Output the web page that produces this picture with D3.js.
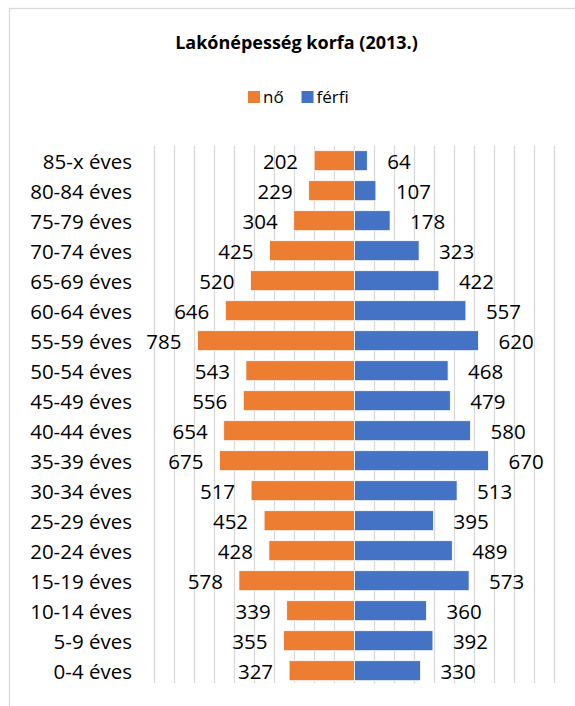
<!DOCTYPE html>
<html>
<head>
<meta charset="utf-8">
<script src="https://cdn.jsdelivr.net/npm/d3@7/dist/d3.min.js"></script>
<style>
  html, body { margin: 0; padding: 0; background: #fff; }
  svg { display: block; }
  text { font-family: "Open Sans", "Noto Sans", sans-serif; fill: #000; }
</style>
</head>
<body>
<svg id="chart" width="575" height="706"></svg>
<script>
// Age groups, top to bottom
const categories = ["85-x éves", "80-84 éves", "75-79 éves", "70-74 éves", "65-69 éves",
  "60-64 éves", "55-59 éves", "50-54 éves", "45-49 éves", "40-44 éves", "35-39 éves",
  "30-34 éves", "25-29 éves", "20-24 éves", "15-19 éves", "10-14 éves", "5-9 éves", "0-4 éves"];
// Women (drawn to the left)
const no = [202, 229, 304, 425, 520, 646, 785, 543, 556, 654, 675, 517, 452, 428, 578, 339, 355, 327];
// Men (drawn to the right)
const ferfi = [64, 107, 178, 323, 422, 557, 620, 468, 479, 580, 670, 513, 395, 489, 573, 360, 392, 330];
const gridTicks = d3.range(-1000, 1001, 100);
const seriesNames = ["nő", "férfi"];

const svg = d3.select("#chart");
const W = 575, H = 706;
const plot = { left: 154.5, right: 554.5, top: 145.7, bottom: 685.7 };
const colors = { no: "#ED7D31", ferfi: "#4472C4" };

// Chart area border
svg.append("rect")
  .attr("x", 9.5).attr("y", 8.5)
  .attr("width", W).attr("height", H)
  .attr("fill", "none").attr("stroke", "#D9D9D9").attr("stroke-width", 1.3);

const x = d3.scaleLinear().domain([-1000, 1000]).range([plot.left, plot.right]);
const y = d3.scaleBand().domain(categories).range([plot.top, plot.bottom]).paddingInner(1/3).paddingOuter(1/6);

// Vertical gridlines
svg.append("g").selectAll("line").data(gridTicks).join("line")
  .attr("x1", d => x(d)).attr("x2", d => x(d))
  .attr("y1", plot.top).attr("y2", plot.bottom - 2.5)
  .attr("stroke", "#D9D9D9").attr("stroke-width", 1.3);

// Title
svg.append("text")
  .attr("x", 296.5).attr("y", 49)
  .attr("text-anchor", "middle")
  .attr("font-size", 18).attr("font-weight", "bold")
  .text("Lakónépesség korfa (2013.)");

// Legend
const legend = svg.append("g");
const legendItems = [
  { name: seriesNames[0], color: colors.no, x: 248 },
  { name: seriesNames[1], color: colors.ferfi, x: 301.5 }
];
legendItems.forEach(it => {
  legend.append("rect").attr("x", it.x).attr("y", 91).attr("width", 12).attr("height", 12).attr("fill", it.color);
  legend.append("text").attr("x", it.x + 15).attr("y", 103).attr("font-size", 17).text(it.name);
});

const rows = categories.map((c, i) => ({ cat: c, no: no[i], ferfi: ferfi[i] }));

// Female bars
svg.append("g").selectAll("rect").data(rows).join("rect")
  .attr("x", d => x(-d.no)).attr("y", d => y(d.cat))
  .attr("width", d => x(0) - x(-d.no)).attr("height", y.bandwidth())
  .attr("fill", colors.no).attr("stroke", "#fff").attr("stroke-width", 0.8);

// Male bars
svg.append("g").selectAll("rect").data(rows).join("rect")
  .attr("x", x(0)).attr("y", d => y(d.cat))
  .attr("width", d => x(d.ferfi) - x(0)).attr("height", y.bandwidth())
  .attr("fill", colors.ferfi).attr("stroke", "#fff").attr("stroke-width", 0.8);

// Value labels
svg.append("g").selectAll("text").data(rows).join("text")
  .attr("x", d => x(-d.no) - 16).attr("y", d => y(d.cat) + y.bandwidth() / 2 + 8)
  .attr("text-anchor", "end").attr("font-size", 20.5)
  .text(d => d.no);
svg.append("g").selectAll("text").data(rows).join("text")
  .attr("x", d => x(d.ferfi) + 20).attr("y", d => y(d.cat) + y.bandwidth() / 2 + 8)
  .attr("text-anchor", "start").attr("font-size", 20.5)
  .text(d => d.ferfi);

// Category labels
svg.append("g").selectAll("text").data(categories).join("text")
  .attr("x", 132).attr("y", d => y(d) + y.bandwidth() / 2 + 8)
  .attr("text-anchor", "end").attr("font-size", 20.5)
  .text(d => d);
</script>
</body>
</html>
